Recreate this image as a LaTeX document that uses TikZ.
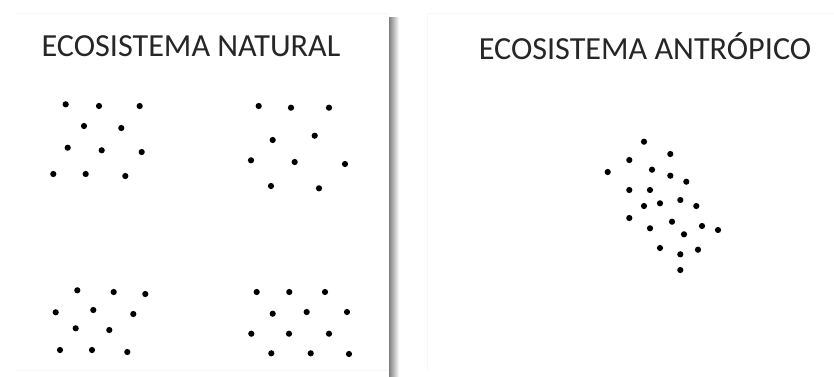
\documentclass[tikz,border=0pt]{standalone}
\usepackage{fontspec}
\setmainfont{Carlito}
\begin{document}
\begin{tikzpicture}[x=1pt,y=-1pt,
  dot/.style={circle,fill=black,inner sep=0pt,minimum size=6.2pt},
  title/.style={font=\fontsize{32.2}{36}\selectfont,text=black!85,inner sep=0pt,anchor=center}]
\useasboundingbox[fill=white] (0,0) rectangle (834,376);
% faint panel edges
\draw[black!3,line width=0.8pt] (17,13) -- (389,13);
\draw[black!3,line width=0.8pt] (17,370) -- (389,370);
\draw[black!3,line width=0.8pt] (427,13) -- (834,13);
\draw[black!3,line width=0.8pt] (427,13) -- (427,370);
% shadow separator
\shade[left color=black!50,right color=white] (389,17) rectangle (399,376);
\node[title] (t1) at (191,46.5) {ECOSISTEMA NATURAL};
\node[title] (t2) at (645,46.5) {ECOSISTEMA ANTRÓPICO};
% top-left group
\foreach \x/\y [count=\i] in {65.7/104.3,99/106,139.7/106,84/126,121.3/128,67.7/147.7,101.7/150.3,141.7/152,53.3/174,85.7/174,125.3/176}
  \node[dot] (a\i) at (\x,\y) {};
% top-right group
\foreach \x/\y [count=\i] in {258.7/106,291/107.7,329/107.7,272.7/140,314.7/135.7,251/160.3,294.7/162,345/164,271/186,319/188.3}
  \node[dot] (b\i) at (\x,\y) {};
% bottom-left group
\foreach \x/\y [count=\i] in {77.3/290.3,113.7/292,145.3/294,55.7/312.3,93.3/310,133.3/314,75.7/328.3,109.3/330,60/350,92/350,127.3/352}
  \node[dot] (c\i) at (\x,\y) {};
% bottom-right group
\foreach \x/\y [count=\i] in {256.7/292,289.3/292,325/292,272.7/313.7,306.7/312,347/312,251.3/333.7,289/333.7,329/333.7,271.3/353.3,310.7/353.3,349/354}
  \node[dot] (d\i) at (\x,\y) {};
% anthropic cluster
\foreach \x/\y [count=\i] in {644/141.7,670.3/154,629.3/160,607.7/172,652/169.7,670.3/175.7,686.3/181.7,629.3/190,650/190,644/206,660/203.3,680.3/200,696.3/206,629.3/218,650/228.3,672/221.7,702/226,718/230,684/234.3,660/248,680.3/254.3,698/249.7,680.3/270}
  \node[dot] (e\i) at (\x,\y) {};
\end{tikzpicture}
\end{document}
